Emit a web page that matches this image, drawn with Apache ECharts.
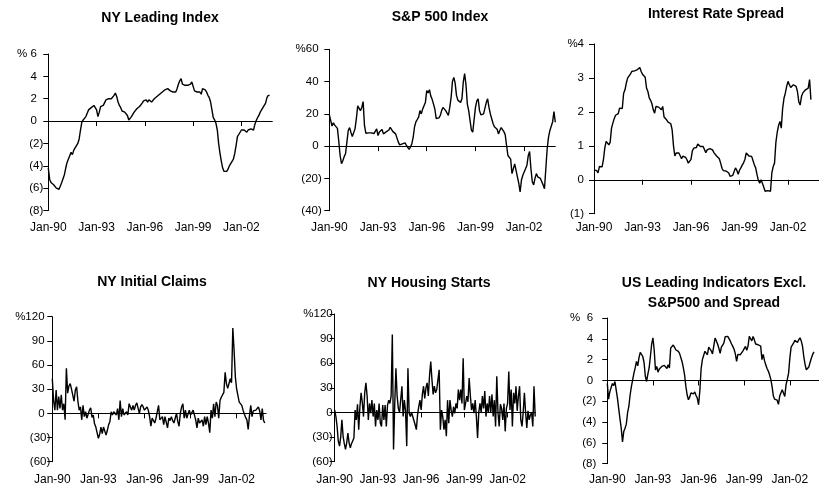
<!DOCTYPE html>
<html lang="en">
<head>
    <meta charset="UTF-8">
    <title>Leading indicators</title>
    <style type="text/css">
        body, html{width:100%;height:100%;margin:0;background:#fff;}
        #main{width:819px;height:489px;}
    </style>
    <script src="https://cdn.jsdelivr.net/npm/echarts@6/dist/echarts.min.js"></script>
</head>
<body>
<div id="main"></div>
<script type="text/javascript">
    // month categories Jan-90 .. Dec-03
    var MONTHS = ['Jan','Feb','Mar','Apr','May','Jun','Jul','Aug','Sep','Oct','Nov','Dec'];
    var months = [];
    for (var y = 1990; y <= 2003; y++) {
        for (var m = 0; m < 12; m++) months.push(MONTHS[m] + '-' + String(y).slice(2));
    }
    var tickLabels = ['Jan-90', 'Jan-93', 'Jan-96', 'Jan-99', 'Jan-02'];

    var nyLeading = [-4.2,-5.2,-5.5,-5.5,-5.7,-5.8,-6.0,-6.1,-6.1,-5.8,
        -5.5,-5.4,-4.8,-4.2,-3.7,-3.4,-3.1,-2.8,-3.0,-2.6,
        -2.4,-2.2,-2.0,-1.6,-0.8,-0.1,0.1,0.2,0.4,0.7,
        1.0,1.1,1.2,1.2,1.4,1.5,1.0,0.4,0.8,1.3,
        1.3,1.4,1.4,1.9,2.0,2.0,2.0,2.0,2.1,2.3,
        2.5,2.2,1.7,1.4,1.2,0.9,0.8,0.8,0.7,0.5,
        0.1,0.2,0.4,0.6,0.8,0.95,1.1,1.25,1.3,1.4,
        1.6,1.8,1.8,1.9,1.7,1.9,1.9,1.7,1.8,2.0,
        2.15,2.2,2.3,2.4,2.5,2.6,2.75,2.8,2.9,2.9,
        3.0,2.7,2.6,2.6,2.7,2.6,2.9,3.3,3.6,3.8,
        3.3,3.2,3.2,3.1,3.2,3.1,3.3,3.5,3.1,2.7,
        2.6,2.6,2.6,2.6,2.4,2.9,3.0,2.8,2.6,2.3,
        2.1,1.7,1.0,0.3,0.1,-0.2,-0.8,-2.0,-2.9,-3.6,
        -4.2,-4.5,-4.6,-4.5,-4.3,-4.0,-3.8,-3.7,-3.4,-2.9,
        -2.2,-1.4,-1.2,-1.0,-0.8,-0.7,-0.8,-0.9,-1.0,-0.8,
        -0.8,-0.7,-0.8,-0.8,-0.3,0.05,0.3,0.5,0.8,1.0,
        1.1,1.4,1.6,2.1,2.3,2.3];

    var sp500 = [19.5,16,12.5,14.4,13,12,11,3,-5.8,-10.9,
        -9,-6.5,-4.7,2.5,9.7,11.5,8.5,6,7,10.7,
        17,25,24,22,24,27.6,12.8,8,9,8.2,
        8.8,8.2,8.8,7.8,8.4,10.7,6.6,8.7,9,10.3,
        7.6,8.2,8.8,8.4,10,11.7,10.5,9,8,7.6,
        6.5,2.5,0.8,1.2,1.4,0.8,2,0.4,-0.5,-2,
        -0.5,1.5,5.6,12,15,16.5,18,22,20,23,
        25,27,34.4,33,35,31,29,26,23,17,
        16,17.5,19,22,24,23,22,21,19,24,
        30,40,42.6,39,31.3,28.5,27.5,27,29.3,39.6,
        45,38,26,22,16,10,8.7,9,24,28,
        29.3,22,19.4,19.5,20,19,27,29.3,24,20,
        17,14,12,11.5,10.5,7.6,9.7,11.5,11,9,
        7,0.4,-5.8,-6,-8,-17,-18,-11,-15,-19,
        -23,-28.4,-21,-18,-16,-14,-12,-6,-3.3,-14,
        -22,-24,-20,-17,-19,-20,-20,-22,-24,-26.4,
        -14,-1.6,5.6,9.7,9,15,21.4,14.8];

    var rateSpread = [0.29,0.34,0.27,0.2,0.39,0.42,0.38,0.59,0.93,1.13,
        1.1,1.03,1.1,1.52,1.67,1.8,1.9,1.94,1.95,2.11,
        2.12,2.1,2.55,2.65,2.85,3.0,2.95,3.11,3.19,3.14,
        3.21,3.2,3.24,3.22,3.31,3.19,3.11,3.1,3.02,2.7,
        2.6,2.41,2.34,2.24,2.06,1.96,2.16,2.12,2.14,2.15,
        2.06,2.16,1.85,1.82,1.76,1.7,1.67,1.65,1.47,1.0,
        0.7,0.79,0.79,0.79,0.74,0.62,0.7,0.72,0.66,0.59,
        0.49,0.44,0.6,0.85,0.93,0.98,0.95,1.05,1.02,0.98,
        1.03,0.98,0.93,0.8,0.88,0.93,0.92,0.91,0.88,0.8,
        0.76,0.7,0.67,0.62,0.49,0.34,0.27,0.27,0.26,0.24,
        0.2,0.1,0.1,0.13,0.16,0.35,0.28,0.16,0.28,0.35,
        0.43,0.5,0.6,0.79,0.75,0.7,0.69,0.69,0.66,0.44,
        0.35,0.15,-0.02,-0.1,0.0,-0.1,-0.15,-0.34,-0.35,-0.32,
        -0.32,-0.34,0.2,0.39,0.49,1.1,1.4,1.6,1.72,1.52,
        2.1,2.4,2.55,2.75,2.9,2.8,2.72,2.76,2.8,2.78,
        2.75,2.6,2.3,2.2,2.45,2.56,2.58,2.65,2.6,2.7,
        2.95,2.36];

    var nyClaims = [43,16,4,29,4,21,6,23,4,12,
        -8,56,25,34,37,30,31,15,29,33,
        15,4,8,-8,10,-4,2,-6,-6,4,
        7,-5,-2,-13,-17,-17,-31,-26,-17,-25,
        -17,-18,-27,-21,-14,-10,2,-2,2,2,
        -2,6,-8,16,-4,6,-2,-1,2,-2,
        12,8,4,10,4,10,13,14,0,8,
        11,8,4,6,8,4,-4,-16,-6,-4,
        -12,-6,-4,10,-8,-10,-4,-14,-4,-6,
        -18,-6,-9,-4,-9,-12,-6,0,-10,-16,
        0,8,12,-6,4,-6,-4,4,-2,0,
        4,2,-8,-18,-6,-12,-10,-8,-16,-4,
        -14,-4,-12,-24,4,-6,12,-4,14,10,
        -6,16,20,19,26,51,37,31,33,43,
        38,106,78,45,30,22,14,16,10,4,
        3,-5,-8,-20,-3,10,-4,3,2,4,
        4,8,3,-8,6,-9,-12];

    var nyHousing = [3,-5,-17,-35,-41,-30,-9,-29,-38,-45,
        -37,-25,-37,-43,-38,-40,-31,3,-9,10,
        -21,7,24,12,-5,24,36,20,-9,11,
        -1,15,-5,11,-17,3,-9,11,-13,-17,
        9,-9,9,-17,9,15,11,20,95,-45,
        10,54,20,5,0,2,32,-5,15,2,
        -41,54,-1,-5,0,-5,-3,-15,-21,-3,
        7,15,3,22,32,17,30,36,20,45,
        62,40,22,32,24,28,40,52,-21,3,
        -5,-21,-9,-29,15,-13,15,3,-5,7,
        -1,11,5,28,15,28,11,66,3,11,
        20,13,42,20,3,11,-1,15,-5,-31,
        0,11,0,20,5,26,-5,11,0,20,
        0,22,-5,15,-17,44,0,-17,10,5,
        -9,11,-23,5,11,50,3,28,-17,24,
        11,32,2,20,32,-9,-17,0,24,0,
        -19,2,-9,-3,0,-17,32,-5];

    var usLeading = [-0.3,-1.8,-1.1,-1.2,-0.3,-0.5,-0.1,-0.9,-1.7,-2.7,
        -3.7,-4.6,-5.9,-4.9,-4.6,-4.2,-3.1,-2.5,-1.4,-0.6,
        -0.7,0.7,1.2,1.83,1.4,2.2,2.7,2.6,2.3,1.7,
        0.4,-0.1,0.6,1.2,2.3,3.5,4.1,2.9,1.0,1.35,
        0.8,1.1,1.0,1.35,1.5,1.45,1.5,1.15,1.5,1.2,
        3.1,2.95,3.4,3.2,2.95,2.9,2.8,2.6,2.7,1.8,
        1.2,0.5,-0.6,-1.4,-1.86,-1.6,-1.2,-1.06,-1.3,-1.1,
        -1.45,-1.7,-2.34,-1.0,1.1,2.0,2.4,2.8,2.8,2.47,
        3.2,3.2,2.85,2.55,2.7,4.07,3.8,3.5,3.1,2.6,
        3.2,3.4,3.6,4.2,4.33,4.23,4.1,3.8,3.5,3.27,
        3.0,2.55,1.83,2.5,2.4,2.47,2.6,2.85,3.0,3.27,
        2.9,3.3,4.23,4.2,3.8,4.23,3.9,3.5,3.6,3.43,
        3.3,3.3,2.0,2.5,1.9,1.5,1.15,0.9,0.54,0.1,
        -0.6,-1.5,-1.8,-1.7,-1.9,-2.3,-1.5,-1.54,-0.9,-1.0,
        -1.54,-0.42,0.1,0.7,2.15,3.2,3.1,3.6,3.85,3.7,
        3.65,3.9,4.1,3.8,3.27,2.3,1.55,1.03,1.1,1.3,
        1.75,2.15,2.5,2.75];

    var FONT = '"Liberation Sans", Arial, sans-serif';

    // one entry per small chart: where it sits and how its y axis reads
    var panels = [
        {title: ['NY Leading Index'], tx: 160, ty: 18, data: nyLeading,
            min: -8, max: 6, step: 2, left: 48.3, top: 54, width: 224, height: 156.5,
            pct: '% ', pad: '  ', ym: 5, xm: 11},
        {title: ['S&P 500 Index'], tx: 440, ty: 17, data: sp500,
            min: -40, max: 60, step: 20, left: 329.3, top: 49.3, width: 226, height: 161.4,
            pct: '%', pad: ' ', ym: 7.5, xm: 11},
        {title: ['Interest Rate Spread'], tx: 716, ty: 14, data: rateSpread,
            min: -1, max: 4, step: 1, left: 594, top: 44, width: 233.5, height: 169.7,
            pct: '%', pad: '', ym: 10, xm: 8},
        {title: ['NY Initial Claims'], tx: 152, ty: 282, data: nyClaims,
            min: -60, max: 120, step: 30, left: 52.3, top: 316.7, width: 213.8, height: 145,
            pct: '%', pad: '\u2002', ym: 2, xm: 11.5},
        {title: ['NY Housing Starts'], tx: 429, ty: 283, data: nyHousing,
            min: -60, max: 120, step: 30, left: 334.7, top: 314, width: 200.5, height: 147.7,
            pct: '%', pad: '', ym: 2, xm: 12},
        {title: ['US Leading Indicators Excl.', 'S&P500 and Spread'], tx: 714, ty: 283.5, data: usLeading,
            min: -8, max: 6, step: 2, left: 607.3, top: 318, width: 216.5, height: 145.7,
            pct: '%  ', pad: ' ', ym: 11, xm: 9.5}
    ];

    var grids = [], xAxes = [], yAxes = [], series = [], texts = [];

    panels.forEach(function (p, i) {
        grids.push({left: p.left, top: p.top, width: p.width, height: p.height});

        // labels along the bottom of the plot
        xAxes.push({
            gridIndex: i, type: 'category', data: months, boundaryGap: false, position: 'bottom',
            axisLine: {show: false, onZero: false},
            axisTick: {show: false},
            splitLine: {show: false},
            axisLabel: {
                interval: 35, margin: p.xm, fontSize: 12, color: '#000', fontFamily: FONT,
                formatter: function (v) { return tickLabels.indexOf(v) >= 0 ? v : ''; }
            }
        });
        // the zero line with its ticks
        xAxes.push({
            gridIndex: i, type: 'category', data: months, boundaryGap: false, position: 'bottom',
            axisLine: {show: true, onZero: true, lineStyle: {color: '#000', width: 1}},
            axisTick: {show: true, interval: 35, length: 5, lineStyle: {color: '#000', width: 1}},
            axisLabel: {show: false},
            splitLine: {show: false}
        });

        yAxes.push({
            gridIndex: i, type: 'value', min: p.min, max: p.max, interval: p.step,
            axisLine: {show: true, lineStyle: {color: '#000', width: 1}},
            axisTick: {show: true, length: 5, lineStyle: {color: '#000', width: 1}},
            splitLine: {show: false},
            axisLabel: {
                margin: p.ym, fontSize: 11.5, color: '#000', fontFamily: FONT,
                formatter: function (v) {
                    var s = v < 0 ? '(' + (-v) + ')' : v + p.pad;
                    if (v === p.max) s = p.pct + s;
                    return s;
                }
            }
        });

        series.push({
            type: 'line', xAxisIndex: i * 2, yAxisIndex: i, data: p.data,
            showSymbol: false, symbol: 'none',
            lineStyle: {color: '#000', width: 1.4},
            silent: true
        });

        p.title.forEach(function (t, k) {
            texts.push({
                type: 'text', x: p.tx, y: p.ty + k * 19.4, silent: true,
                style: {
                    text: t, fill: '#000', font: 'bold 14px ' + FONT,
                    align: 'center', verticalAlign: 'middle',
                    textAlign: 'center', textVerticalAlign: 'middle'
                }
            });
        });
    });

    var chart = echarts.init(document.getElementById('main'));
    chart.setOption({
        animation: false,
        backgroundColor: '#fff',
        grid: grids,
        xAxis: xAxes,
        yAxis: yAxes,
        series: series,
        graphic: texts
    });
</script>
</body>
</html>
